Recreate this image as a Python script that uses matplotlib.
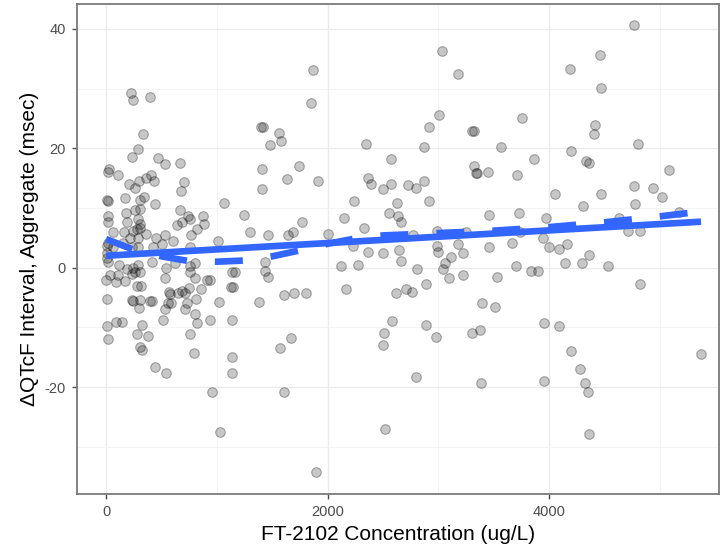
import numpy as np
import matplotlib
matplotlib.use("Agg")
import matplotlib.pyplot as plt
from matplotlib.ticker import MultipleLocator

plt.rcParams["font.family"] = ["Liberation Sans", "DejaVu Sans"]
plt.rcParams["axes.unicode_minus"] = False

# concentration (ug/L) and aggregate change in QTcF (msec)
conc = np.array([
    1869, 1851, 226, 244, 397, 334, 289, 235, 470, 533, 668, 27, 18, 108, 406, 361,
    433, 298, 208, 262, 704, 677, 1400, 1418, 1562, 1580, 1481, 1743, 1409, 1634,
    1914, 1409, 2348, 2574, 2366, 2393, 2574, 2501, 2628, 2555, 2637, 2239, 2149,
    2330, 1066, 1246, 1300, 1463, 1643, 1689, 1770, 2005, 1011, 2230, 172, 307, 343,
    442, 262, 307, 9, 18, 18, 18, 181, 190, 289, 307, 307, 163, 63, 244, 361, 451,
    533, 289, 217, 605, 668, 740, 758, 641, 686, 876, 885, 822, 768,
    4768, 3034, 3179, 4190, 4461, 4470, 3007, 2917, 2872, 3305, 3323, 3756, 3567,
    4416, 4407, 4804, 4199, 4334, 4362, 3865, 3323, 3341, 3350, 3449, 3711, 5084,
    2872, 2727, 2799, 2917, 2664, 4054, 4470, 4768, 4939, 5020, 4777, 4307, 3458,
    3729, 3973, 4632, 5174, 4714, 4822, 2989, 3251, 3738, 2772, 3946, 2989, 3179,
    3458, 3666, 4000, 4090, 4163, 2646,
    2501, 2664, 2998, 3224, 3115, 3061, 3043, 3097, 3224, 3702, 3531, 3838, 3901,
    4145, 4298, 4362, 4533, 4822, 2808, 2619, 2709, 2763, 2890, 3395, 3513, 2583,
    2510, 2501, 2890, 2980, 3305, 3377, 3955, 4091, 4199, 4280, 4325, 4352, 3955,
    3386, 2799, 2519, 4362, 5373,
    1896, 1029, 957, 1607, 442, 542, 1138, 1138, 795, 307, 325, 280, 379, 9, 18, 90,
    145, 325, 758, 1571, 1670, 9, 235, 244, 307, 397, 415, 298, 515, 533, 560, 587,
    569, 650, 686, 713, 713, 731, 813, 804, 822, 939, 1138, 1020, 858, 939, 1130,
    1145, 1138, 1382, 1436, 1436, 1463, 1607, 1698, 1806, 2122, 2276, 2167, 2366,
    9, 9, 9,
    18, 117, 190, 244, 289, 307, 235, 262, 0, 36, 90, 108, 172, 280, 316, 415, 542,
    533, 623, 758, 758, 804, 804, 912, 578, 749, 1165,
    280, 18, 63, 154, 235, 289, 424, 506, 758,
])
dqtcf = np.array([
    33.1, 27.6, 29.2, 28.1, 28.6, 22.4, 19.8, 18.6, 18.3, 17.3, 17.6, 16.5, 16.1,
    15.6, 15.5, 15.1, 14.5, 14.5, 14.1, 13.4, 14.3, 12.9, 23.5, 23.5, 22.5, 21.3,
    20.5, 17.1, 16.5, 14.8, 14.6, 13.1, 20.8, 18.2, 15.1, 14.1, 14.1, 13.1, 10.9,
    9.1, 8.6, 11.1, 8.4, 6.6, 10.9, 8.9, 5.9, 5.5, 5.5, 5.9, 7.7, 5.7, 4.5, 3.7,
    11.6, 11.4, 11.9, 10.6, 9.6, 9.9, 11.3, 11.1, 8.7, 7.6, 9.1, 7.6, 8.1, 7.4, 6.6,
    5.9, 5.9, 6.1, 5.7, 4.9, 5.5, 4.9, 5.0, 4.5, 9.6, 8.6, 8.1, 7.2, 7.6, 8.7, 7.4,
    6.4, 5.5,
    40.7, 36.3, 32.4, 33.3, 35.6, 30.1, 25.5, 23.5, 20.3, 22.9, 22.9, 25.0, 20.3,
    23.9, 22.4, 20.7, 19.5, 17.8, 17.5, 18.2, 17.1, 15.8, 15.9, 16.1, 15.6, 16.3,
    14.5, 13.8, 13.3, 11.1, 7.7, 12.4, 12.4, 13.6, 13.3, 11.9, 10.6, 10.4, 8.9,
    9.1, 8.4, 8.4, 9.4, 6.2, 6.2, 6.2, 6.0, 5.9, 5.5, 4.9, 3.7, 3.9,
    3.5, 4.2, 3.5, 3.2, 4.0, 2.9,
    2.5, 1.2, 2.7, 2.5, 1.8, 0.7, -0.3, -1.8, -1.2, 0.2, -1.5, -0.5, -0.5,
    0.7, 0.7, 2.2, 0.3, -2.7, -0.3, -4.2, -3.5, -4.0, -2.7, -5.9, -6.6, -8.9,
    -10.9, -12.9, -9.6, -11.6, -10.9, -10.4, -9.2, -9.7, -13.9, -17.0, -19.3, -20.8,
    -19.0, -19.3, -18.3, -27.1, -27.9, -14.5,
    -34.3, -27.6, -20.8, -20.8, -16.6, -17.6, -15.0, -17.6, -14.3, -13.3, -13.8,
    -11.1, -11.4, -9.7, -11.9, -9.1, -9.1, -9.6, -11.1, -13.4, -11.8, -5.2, -5.4,
    -5.5, -5.4, -5.5, -5.5, -6.7, -8.7, -6.9, -5.9, -5.9, -4.0, -4.2, -3.9, -4.2,
    -6.9, -5.9, -5.2, -7.7, -9.2, -8.7, -8.7, -5.7, -3.5, -2.0, -3.2, -3.2, -0.7,
    -5.7, 1.0, -0.5, -1.5, -4.5, -4.2, -4.2, 0.2, 0.5, -3.5, 2.7,
    3.7, 2.5, 1.7,
    1.0, 0.5, -0.3, 0.0, 0.5, -0.7, -1.0, -0.8, -2.0, -1.2, -2.4, -1.3, -2.2, -3.0,
    -3.0, 1.0, 0.0, -1.8, 0.7, 0.2, -0.7, 0.8, -1.7, -2.0, -4.4, -3.4, -0.7,
    6.4, 4.2, 3.4, 4.2, 3.4, 3.4, 3.4, 3.9, 3.4,
])

# linear fit
lm_x = [0, 5370]
lm_y = [2.0, 7.7]

# loess smooth
lo_x = [0, 250, 500, 750, 1000, 1250, 1500, 1750, 2000, 2250, 2500, 3000, 3500,
        4000, 4500, 5000, 5370]
lo_y = [4.8, 3.0, 1.9, 1.1, 1.0, 1.2, 1.9, 2.9, 4.0, 4.9, 5.4, 5.8, 6.2, 6.8,
        7.6, 8.6, 9.4]

blue = "#3366FF"

fig = plt.figure(figsize=(7.2, 5.5), dpi=100)
ax = fig.add_axes([0.107, 0.102, 0.892, 0.891])

ax.scatter(conc, dqtcf, s=48, facecolor=(0, 0, 0, 0.22),
           edgecolor=(0, 0, 0, 0.30), linewidths=0.8, zorder=2)
ax.plot(lm_x, lm_y, color=blue, lw=4.8, solid_capstyle="butt", zorder=3)
ax.plot(lo_x, lo_y, color=blue, lw=4.8, dashes=(4.2, 4.2),
        dash_capstyle="butt", zorder=3)

ax.set_xlim(-262, 5535)
ax.set_ylim(-37.9, 44.2)

ax.xaxis.set_major_locator(MultipleLocator(2000))
ax.xaxis.set_minor_locator(MultipleLocator(1000))
ax.yaxis.set_major_locator(MultipleLocator(20))
ax.yaxis.set_minor_locator(MultipleLocator(10))

ax.grid(which="major", color="#EBEBEB", lw=1.0, zorder=0)
ax.grid(which="minor", color="#F2F2F2", lw=0.6, zorder=0)
ax.set_axisbelow(True)

for sp in ax.spines.values():
    sp.set_color("#7A7A7A")
    sp.set_linewidth(1.3)

ax.tick_params(which="major", length=3.5, width=1.0, color="#4D4D4D",
               labelcolor="#4D4D4D", labelsize=10.5, pad=4.5)
ax.tick_params(which="minor", length=0)

ax.set_xlabel("FT-2102 Concentration (ug/L)", fontsize=15, labelpad=4)
ax.set_ylabel("\u0394QTcF Interval, Aggregate (msec)", fontsize=15, labelpad=4)

fig.savefig("out.png", dpi=100)
